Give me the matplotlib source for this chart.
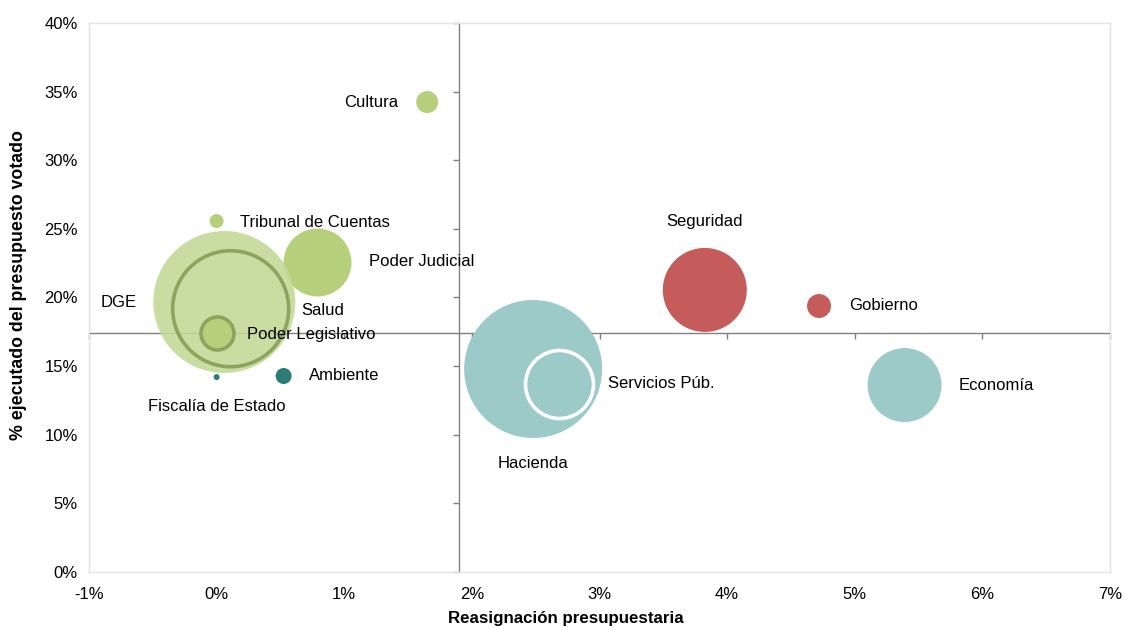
import matplotlib
matplotlib.use("Agg")
import matplotlib.pyplot as plt
from matplotlib.ticker import FuncFormatter

plt.rcParams["font.family"] = ["Liberation Sans", "DejaVu Sans"]

# Organismos: reasignación (%), % ejecutado, tamaño relativo de la burbuja
nombres = ["Poder Judicial", "DGE", "Salud", "Poder Legislativo", "Tribunal de Cuentas",
           "Cultura", "Ambiente", "Fiscalía de Estado", "Hacienda", "Servicios Púb.",
           "Seguridad", "Gobierno", "Economía"]
reasignacion = [0.79, 0.06, 0.11, 0.0, 0.0, 1.65, 0.525, 0.0, 2.48, 2.685, 3.825, 4.72, 5.39]
ejecutado = [22.6, 19.67, 19.18, 17.38, 25.57, 34.24, 14.28, 14.2, 14.79, 13.70, 20.55, 19.38, 13.62]
tamano = [1225, 5041, 3364, 272, 49, 121, 64, 9, 4761, 1156, 1764, 144, 1369]

# Promedios que dividen los cuadrantes
promedio_reasignacion = 1.9
promedio_ejecutado = 17.4

xticks = [-1, 0, 1, 2, 3, 4, 5, 6, 7]
yticks = [0, 5, 10, 15, 20, 25, 30, 35, 40]

verde_claro = "#c2d995"
verde = "#b6cf7a"
verde_oscuro = "#8ea35d"
celeste = "#9bcac9"
teal = "#2e7a77"
rojo = "#c55c5b"

estilos = {
    "Poder Judicial": dict(fc=verde, ec="white", lw=1.5, alpha=1.0),
    "DGE": dict(fc=verde_claro, ec="none", lw=0, alpha=0.88),
    "Salud": dict(fc="none", ec=verde_oscuro, lw=2.6, alpha=1.0),
    "Poder Legislativo": dict(fc=verde, ec=verde_oscuro, lw=2.6, alpha=1.0),
    "Tribunal de Cuentas": dict(fc=verde, ec="none", lw=0, alpha=1.0),
    "Cultura": dict(fc=verde, ec="none", lw=0, alpha=1.0),
    "Ambiente": dict(fc=teal, ec="none", lw=0, alpha=1.0),
    "Fiscalía de Estado": dict(fc=teal, ec="none", lw=0, alpha=1.0),
    "Hacienda": dict(fc=celeste, ec="none", lw=0, alpha=1.0),
    "Servicios Púb.": dict(fc=celeste, ec="white", lw=2.6, alpha=1.0),
    "Seguridad": dict(fc=rojo, ec="none", lw=0, alpha=1.0),
    "Gobierno": dict(fc=rojo, ec="none", lw=0, alpha=1.0),
    "Economía": dict(fc=celeste, ec="none", lw=0, alpha=1.0),
}

# desplazamiento de etiquetas (puntos) y alineación horizontal
etiquetas = {
    "Poder Judicial": (37, 0, "left"),
    "DGE": (-76, 0, "center"),
    "Salud": (66, -1, "center"),
    "Poder Legislativo": (22, -1, "left"),
    "Tribunal de Cuentas": (17, -1, "left"),
    "Cultura": (-21, 0, "right"),
    "Ambiente": (18, 0, "left"),
    "Fiscalía de Estado": (0, -21, "center"),
    "Hacienda": (0, -68, "center"),
    "Servicios Púb.": (35, 0, "left"),
    "Seguridad": (0, 49, "center"),
    "Gobierno": (22, 0, "left"),
    "Economía": (39, 0, "left"),
}

fig = plt.figure(figsize=(11.25, 6.28), dpi=100)
ax = fig.add_axes([0.0791, 0.0892, 0.9076, 0.8742])
ax.set_xlim(xticks[0], xticks[-1])
ax.set_ylim(yticks[0], yticks[-1])
ax.set_xticks(xticks)
ax.set_yticks(yticks)
fmt = FuncFormatter(lambda v, p: f"{v:.0f}%")
ax.xaxis.set_major_formatter(fmt)
ax.yaxis.set_major_formatter(fmt)
ax.tick_params(length=0, labelsize=12, colors="black")
ax.tick_params(axis="x", pad=11)
ax.tick_params(axis="y", pad=8)
for s in ax.spines.values():
    s.set_color("#e3e3e3")
    s.set_linewidth(1.0)

# Ejes cruzados en los promedios
secx = ax.secondary_xaxis(promedio_ejecutado, transform=ax.transData)
secx.set_alignment("bottom")
secx.set_xticks(xticks)
secx.tick_params(direction="out", length=4, color="#808080", width=1, labelbottom=False, labeltop=False)
for s in secx.spines.values():
    s.set_color("#808080")
    s.set_linewidth(1.0)

secy = ax.secondary_yaxis(promedio_reasignacion, transform=ax.transData)
secy.set_alignment("left")
secy.set_yticks(yticks)
secy.tick_params(direction="out", length=4, color="#808080", width=1, labelleft=False, labelright=False)
for s in secy.spines.values():
    s.set_color("#808080")
    s.set_linewidth(1.0)

escala = 2.0736
for i, n in enumerate(nombres):
    st = estilos[n]
    ax.scatter([reasignacion[i]], [ejecutado[i]], s=escala * tamano[i],
               facecolors=st["fc"], edgecolors=st["ec"], linewidths=st["lw"],
               alpha=st["alpha"], zorder=3 + i * 0.01)
    dx, dy, ha = etiquetas[n]
    ax.annotate(n, (reasignacion[i], ejecutado[i]), xytext=(dx, dy),
                textcoords="offset points", ha=ha, va="center",
                fontsize=12, color="black", zorder=10)

ax.set_xlabel("Reasignación presupuestaria", fontsize=12.2, fontweight="bold", va="center")
ax.xaxis.set_label_coords(0.467, -0.085)
ax.set_ylabel("% ejecutado del presupuesto votado", fontsize=12.8, fontweight="bold", va="center")
ax.yaxis.set_label_coords(-0.0695, 0.523)

fig.savefig("out.png", dpi=100)
